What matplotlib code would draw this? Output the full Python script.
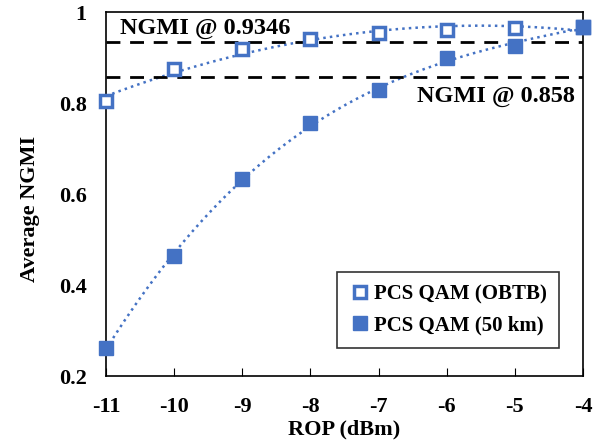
import numpy as np
import matplotlib
matplotlib.use("Agg")
import matplotlib.pyplot as plt

plt.rcParams['font.family'] = ['Liberation Serif', 'DejaVu Serif']
plt.rcParams['font.weight'] = 'bold'

rop = [-11, -10, -9, -8, -7, -6, -5, -4]
obtb = [0.805, 0.875, 0.918, 0.940, 0.953, 0.960, 0.965, 0.966]
km50 = [0.262, 0.463, 0.632, 0.755, 0.828, 0.898, 0.925, 0.968]
thr_hi = 0.9346
thr_lo = 0.858

blue = '#4472C4'

fig = plt.figure(figsize=(6.11, 4.45), dpi=100)
ax = fig.add_axes([0.1735, 0.155, 0.7805, 0.818])

# trendlines (polynomial fit, like the excel ones)
xs = np.linspace(-11, -4, 200)
p1 = np.polyfit(rop, obtb, 2)
p2 = np.polyfit(rop, km50, 3)
ax.plot(xs, np.polyval(p1, xs), ':', color=blue, lw=1.8)
ax.plot(xs, np.polyval(p2, xs), ':', color=blue, lw=1.8)

ax.axhline(thr_hi, color='black', ls=(0, (5, 3.5)), lw=2)
ax.axhline(thr_lo, color='black', ls=(0, (5, 3.5)), lw=2)

ax.plot(rop, obtb, 's', ms=9, mfc='white', mec=blue, mew=2.5,
        label='PCS QAM (OBTB)', clip_on=False, zorder=3)
ax.plot(rop, km50, 's', ms=10, mfc=blue, mec=blue,
        label='PCS QAM (50 km)', clip_on=False, zorder=4)

ax.text(-10.8, 0.941, 'NGMI @ 0.9346', fontsize=17.5, fontweight='bold',
        ha='left', va='bottom')
ax.text(-4.12, 0.838, 'NGMI @ 0.858', fontsize=17.5, fontweight='bold',
        ha='right', va='top')

ax.set_xlim(-11, -4)
ax.set_ylim(0.2, 1.0)
ax.set_xticks(rop)
ax.set_xticklabels([str(v) for v in rop])
ax.set_yticks([0.2, 0.4, 0.6, 0.8, 1.0])
ax.set_yticklabels(['0.2', '0.4', '0.6', '0.8', '1'])
ax.tick_params(axis='x', direction='in', length=6, labelsize=16, pad=15)
ax.tick_params(axis='y', length=0, labelsize=16, pad=14)
for s in ax.spines.values():
    s.set_linewidth(1.2)

ax.set_xlabel('ROP (dBm)', fontsize=16, fontweight='bold', labelpad=2)
ax.set_ylabel('Average NGMI', fontsize=16, fontweight='bold')
ax.yaxis.set_label_coords(-0.138, 0.46)

leg = ax.legend(loc='lower right', bbox_to_anchor=(0.95, 0.077), fontsize=15,
                frameon=True, fancybox=False, edgecolor='black',
                handlelength=1.0, handletextpad=0.15, borderpad=0.6,
                labelspacing=0.55, borderaxespad=0)
leg.get_frame().set_linewidth(1.2)

fig.savefig('out.png', dpi=100)
